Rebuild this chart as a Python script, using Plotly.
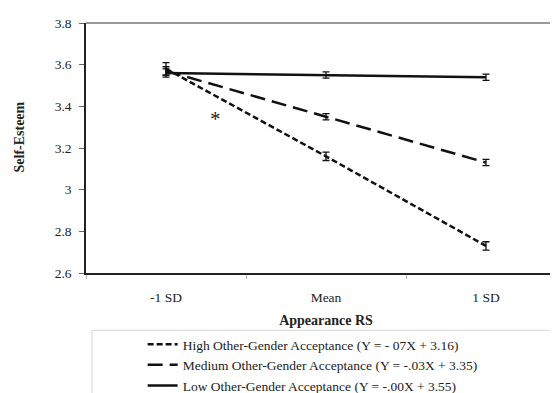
import plotly.graph_objects as go

categories = ["-1 SD", "Mean", "1 SD"]
high_vals = [3.58, 3.16, 2.73]
high_err = [0.03, 0.02, 0.02]
medium_vals = [3.57, 3.35, 3.13]
medium_err = [0.02, 0.015, 0.015]
low_vals = [3.56, 3.55, 3.54]
low_err = [0.02, 0.015, 0.015]
series_names = [
    "High Other-Gender Acceptance (Y = - 07X + 3.16)",
    "Medium Other-Gender Acceptance (Y = -.03X + 3.35)",
    "Low Other-Gender Acceptance (Y = -.00X + 3.55)",
]
y_ticks = [2.6, 2.8, 3.0, 3.2, 3.4, 3.6, 3.8]
y_tick_text = ["2.6", "2.8", "3", "3.2", "3.4", "3.6", "3.8"]

FONT = "Liberation Serif, Times New Roman, serif"

fig = go.Figure()
styles = [
    (high_vals, high_err, "6px,3px"),
    (medium_vals, medium_err, "15px,7px"),
    (low_vals, low_err, "solid"),
]
for name, (vals, err, dash) in zip(series_names, styles):
    fig.add_trace(go.Scatter(
        x=categories, y=vals, name=name, mode="lines",
        line=dict(color="#111111", width=2.5, dash=dash),
        error_y=dict(type="data", array=err, visible=True, color="#111111",
                     thickness=1.3, width=3.5),
    ))

fig.add_annotation(x=0.31, y=3.34, xref="x", yref="y", text="*", showarrow=False,
                   font=dict(family=FONT, size=21, color="#222222"))

# y-axis title placed as annotation (off-centre like the original)
fig.add_annotation(x=-61 / 480, y=(277 - 135) / 262, xref="paper", yref="paper",
                   text="<b>Self-Esteem</b>", textangle=-90, showarrow=False,
                   xanchor="center", yanchor="middle", xshift=-5,
                   font=dict(family=FONT, size=14, color="#222222"))

# legend box
fig.add_shape(type="rect", xref="paper", yref="paper",
              x0=0.0125, x1=0.973, y0=-0.5, y1=-0.229,
              line=dict(color="#d4d4d4", width=1), fillcolor="rgba(0,0,0,0)")

fig.update_layout(
    width=558, height=393,
    margin=dict(l=78, r=0, t=15, b=116),
    paper_bgcolor="white", plot_bgcolor="white",
    font=dict(family=FONT, size=13.5, color="#222222"),
    showlegend=True,
    legend=dict(x=0.118, xanchor="left", y=-0.225, yanchor="top",
                bgcolor="rgba(0,0,0,0)", borderwidth=0,
                font=dict(family=FONT, size=13.5, color="#222222"),
                tracegroupgap=0, itemwidth=30),
    xaxis=dict(type="category", range=[-0.5, 2.5], showline=True, linecolor="#222222",
               linewidth=1.5, mirror=False, ticks="outside", tickson="boundaries",
               ticklen=4, tickcolor="#bbbbbb", showgrid=False, zeroline=False,
               ticklabelstandoff=11,
               title=dict(text="<b>Appearance RS</b>", standoff=11,
                          font=dict(family=FONT, size=14, color="#222222"))),
    yaxis=dict(range=[2.6, 3.8], tickvals=y_ticks, ticktext=y_tick_text,
               showline=True, linecolor="#222222", linewidth=1.5, ticks="outside",
               ticklen=5, tickcolor="#666666", showgrid=False, zeroline=False,
               ticklabelstandoff=5),
)
# top border line
fig.add_shape(type="line", xref="paper", yref="paper", x0=0, x1=1, y0=1, y1=1,
              line=dict(color="#777777", width=1.5))

fig.write_html("out.html")
